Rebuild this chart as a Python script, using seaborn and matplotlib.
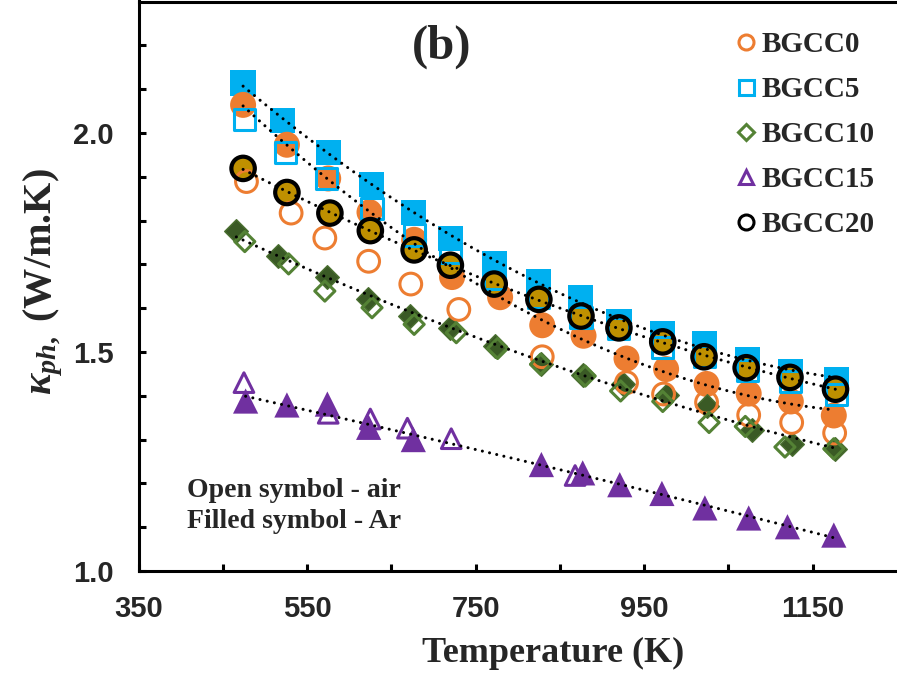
import numpy as np
import pandas as pd
import matplotlib
matplotlib.use("Agg")
import matplotlib.pyplot as plt
from matplotlib.lines import Line2D
import seaborn as sns

# ---------------- data ----------------
series_names = ["BGCC0", "BGCC5", "BGCC10", "BGCC15", "BGCC20"]

T_bgcc0_ar = [474, 526, 575, 624, 677, 722, 779, 829, 878, 929, 976, 1024, 1074, 1124, 1175]
k_bgcc0_ar = [2.064, 1.973, 1.896, 1.819, 1.756, 1.671, 1.625, 1.561, 1.537, 1.485, 1.461, 1.427, 1.405, 1.387, 1.355]
T_bgcc0_air = [478, 531, 571, 623, 673, 730, 829, 929, 973, 1024, 1074, 1125, 1176]
k_bgcc0_air = [1.889, 1.817, 1.760, 1.707, 1.655, 1.597, 1.489, 1.430, 1.404, 1.385, 1.356, 1.339, 1.315]

T_bgcc5_ar = [474, 521, 575, 626, 676, 720, 772, 825, 874, 920, 972, 1022, 1073, 1124, 1178]
k_bgcc5_ar = [2.114, 2.028, 1.955, 1.883, 1.819, 1.759, 1.701, 1.660, 1.623, 1.569, 1.543, 1.518, 1.482, 1.454, 1.437]
T_bgcc5_air = [476, 524, 573, 627, 677, 720, 772, 825, 875, 920, 972, 1022, 1073, 1124, 1178]
k_bgcc5_air = [2.031, 1.955, 1.896, 1.828, 1.767, 1.727, 1.667, 1.625, 1.579, 1.553, 1.511, 1.489, 1.458, 1.432, 1.402]

T_bgcc10_ar = [466, 516, 574, 622, 672, 719, 773, 828, 877, 925, 977, 1025, 1078, 1125, 1176]
k_bgcc10_ar = [1.775, 1.718, 1.670, 1.620, 1.582, 1.555, 1.514, 1.472, 1.447, 1.427, 1.402, 1.377, 1.322, 1.290, 1.279]
T_bgcc10_air = [476, 528, 571, 627, 677, 727, 776, 827, 880, 922, 972, 1027, 1070, 1117, 1175]
k_bgcc10_air = [1.752, 1.701, 1.639, 1.601, 1.563, 1.544, 1.508, 1.472, 1.445, 1.411, 1.387, 1.339, 1.330, 1.283, 1.279]

T_bgcc15_ar = [477, 526, 574, 623, 676, 828, 877, 921, 971, 1022, 1074, 1120, 1175]
k_bgcc15_ar = [1.388, 1.379, 1.381, 1.328, 1.300, 1.243, 1.224, 1.197, 1.177, 1.144, 1.121, 1.101, 1.082]
T_bgcc15_air = [475, 575, 625, 669, 721, 868]
k_bgcc15_air = [1.430, 1.360, 1.347, 1.326, 1.302, 1.218]

T_bgcc20_ar = [474, 526, 577, 625, 677, 720, 772, 825, 875, 920, 972, 1021, 1071, 1123, 1177]
k_bgcc20_ar = [1.919, 1.864, 1.817, 1.777, 1.733, 1.698, 1.655, 1.620, 1.582, 1.555, 1.523, 1.489, 1.464, 1.442, 1.415]
T_bgcc20_air = T_bgcc20_ar
k_bgcc20_air = k_bgcc20_ar

x_ticks = [350, 550, 750, 950, 1150]
y_ticks = [1.0, 1.5, 2.0]

# ---------------- style ----------------
sns.set_theme(style="ticks")
plt.rcParams["font.family"] = ["Liberation Serif", "DejaVu Serif"]
plt.rcParams["mathtext.fontset"] = "custom"
plt.rcParams["mathtext.it"] = "Liberation Serif:italic:bold"
plt.rcParams["mathtext.rm"] = "Liberation Serif:bold"
plt.rcParams["mathtext.bf"] = "Liberation Serif:bold"

orange = "#ED7D31"
blue = "#00B0F0"
green = "#548235"
green_dark = "#3A5A25"
purple = "#7030A0"
gold = "#BF9000"

W, H = 897, 684
fig = plt.figure(figsize=(W / 100, H / 100), dpi=100)
ax = fig.add_axes([138.6 / W, 113 / H, (W - 138.6) / W, 569.5 / H])


def filled(T, k, marker, s, fc, ec="none", lw=0, z=3):
    sns.scatterplot(x=T, y=k, marker=marker, s=s, color=fc, facecolor=fc,
                    edgecolor=ec, linewidth=lw, ax=ax, zorder=z, legend=False)


def opened(T, k, marker, s, ec, lw=2.2, z=5):
    sns.scatterplot(x=T, y=k, marker=marker, s=s, color=ec, facecolor="none",
                    edgecolor=ec, linewidth=lw, ax=ax, zorder=z, legend=False)


# ---- filled symbols (Ar) ----
filled(T_bgcc5_ar, k_bgcc5_ar, "s", 330, blue, z=2)
filled(T_bgcc0_ar, k_bgcc0_ar, "o", 350, orange, z=3)
filled(T_bgcc20_ar, k_bgcc20_ar, "o", 300, gold, z=3.5)
filled(T_bgcc10_ar, k_bgcc10_ar, "D", 145, green_dark, ec="#4A6F30", lw=1.0, z=3)
filled(T_bgcc15_ar, k_bgcc15_ar, "^", 330, purple, z=3)

# ---- open symbols (air) ----
opened(T_bgcc5_air, k_bgcc5_air, "s", 230, blue)
opened(T_bgcc0_air, k_bgcc0_air, "o", 245, orange)
opened(T_bgcc10_air, k_bgcc10_air, "D", 105, green)
opened(T_bgcc15_air, k_bgcc15_air, "^", 200, purple)
opened(T_bgcc20_air, k_bgcc20_air, "o", 285, "black", lw=3.0, z=6)

# ---- dotted trend lines (2nd order fits of the Ar data) ----
for T, k in [(T_bgcc5_ar, k_bgcc5_ar), (T_bgcc0_ar, k_bgcc0_ar),
             (T_bgcc20_ar, k_bgcc20_ar), (T_bgcc10_ar, k_bgcc10_ar),
             (T_bgcc15_ar, k_bgcc15_ar)]:
    sns.regplot(x=np.array(T, float), y=np.array(k, float), order=2, ci=None,
                scatter=False, truncate=True, color="black", ax=ax,
                line_kws=dict(lw=2.2, linestyle=(0, (0.01, 2.4)),
                              dash_capstyle="round", zorder=10))

# ---------------- axes ----------------
ax.set_xlim(350, 1250)
ax.set_ylim(1.0, 2.3)
ax.set_xticks(x_ticks)
ax.set_xticks([450, 650, 850, 1050], minor=True)
ax.set_yticks(y_ticks)
ax.set_yticks(np.round(np.arange(1.1, 2.3, 0.1), 1), minor=True)
ax.set_xticklabels([str(v) for v in x_ticks], fontfamily="Liberation Sans",
                   fontweight="bold", fontsize=21)
ax.set_yticklabels([f"{v:.1f}" for v in y_ticks], fontfamily="Liberation Sans",
                   fontweight="bold", fontsize=21)
ax.tick_params(axis="both", which="both", direction="in", length=5, width=2.2,
               color="black")
ax.tick_params(axis="x", which="major", pad=17)
ax.tick_params(axis="y", which="major", pad=18)
for side in ["left", "bottom", "top"]:
    ax.spines[side].set_linewidth(2.2)
    ax.spines[side].set_color("black")
ax.spines["right"].set_visible(False)
ax.grid(False)
ax.set_facecolor("white")

ax.set_xlabel("Temperature (K)", fontsize=26, fontweight="bold",
              fontfamily="Liberation Serif")
ax.xaxis.set_label_coords((553 - 138.6) / (W - 138.6), -66 / 569.5)
ax.set_ylabel("")
fig.text(43 / W, 1 - 282 / H, r"$\kappa_{ph,}$ (W/m.K)", rotation=90,
         ha="center", va="center", fontsize=29, fontweight="bold",
         fontfamily="Liberation Serif")

ax.text((442 - 138.6) / (W - 138.6), (571 - 47) / 569.5, "(b)",
        transform=ax.transAxes, ha="center", va="center", fontsize=35,
        fontweight="bold", fontfamily="Liberation Serif")
ax.text((187 - 138.6) / (W - 138.6), (571 - 478) / 569.5,
        "Open symbol - air\nFilled symbol - Ar", transform=ax.transAxes,
        ha="left", va="top", fontsize=20, fontweight="bold",
        fontfamily="Liberation Serif", linespacing=1.33)

# ---------------- legend ----------------
handles = [
    Line2D([], [], ls="none", marker="o", mfc="none", mec=orange, mew=2.2, ms=10.8),
    Line2D([], [], ls="none", marker="s", mfc="none", mec=blue, mew=2.2, ms=10.8),
    Line2D([], [], ls="none", marker="D", mfc="none", mec=green, mew=2.2, ms=7.8),
    Line2D([], [], ls="none", marker="^", mfc="none", mec=purple, mew=2.2, ms=10.5),
    Line2D([], [], ls="none", marker="o", mfc="none", mec="black", mew=2.2, ms=10.8),
]
leg = fig.legend(handles, series_names, loc="upper left",
                 bbox_to_anchor=(737 / W, 1 - 31 / H), frameon=False,
                 borderpad=0, borderaxespad=0, handlelength=0.6,
                 handletextpad=0.25, labelspacing=0.62,
                 prop=dict(family="Liberation Serif", weight="bold", size=21))

fig.savefig("out.png", dpi=100, facecolor="white")
